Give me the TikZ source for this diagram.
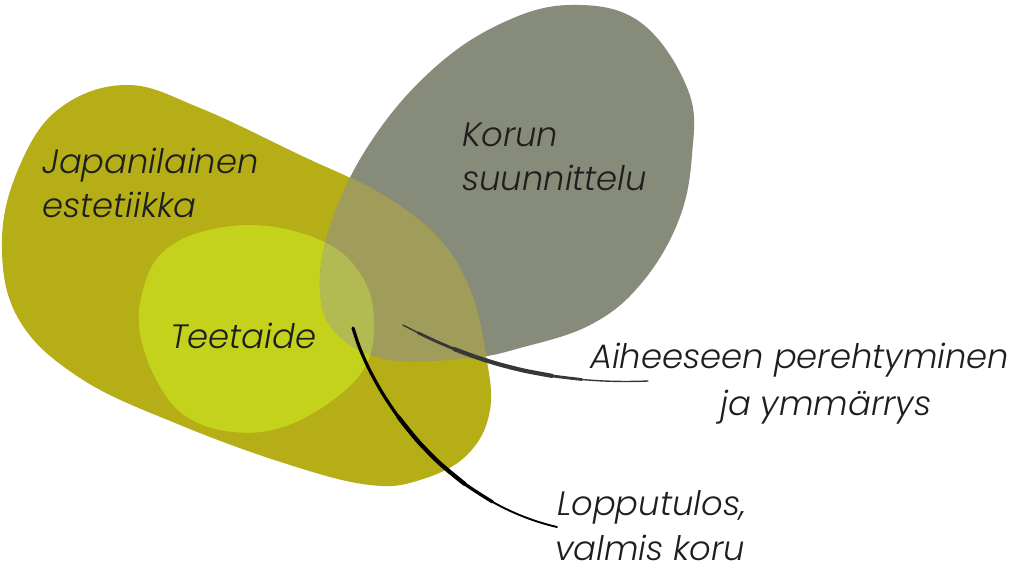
\documentclass[tikz,border=0pt]{standalone}
\usepackage{fontspec}
\newfontfamily\lab{Poppins Light Italic}
\begin{document}
\begin{tikzpicture}[x=1pt,y=-1pt,
  lbl/.style={anchor=base west,inner sep=0pt,font=\lab\fontsize{33.8}{40}\selectfont,text=txt},
  conn/.style={line cap=round,line join=round}]
\definecolor{olivec}{RGB}{182,174,22}
\definecolor{yellowc}{RGB}{197,210,28}
\definecolor{greyc}{RGB}{134,139,122}
\definecolor{ogc}{RGB}{160,157,90}
\definecolor{ygc}{RGB}{178,186,82}
\definecolor{txt}{RGB}{30,30,30}
\definecolor{ln1}{RGB}{55,55,55}
\useasboundingbox[fill=white] (0,0) rectangle (1023,576);
\def\greyP{plot[smooth cycle,tension=0.65] coordinates {(570,5) (640,22) (688,90) (692,155) (678,222) (640,285) (590,325) (520,348) (470,358) (390,360) (338,335) (320,290) (332,220) (372,140) (432,70) (500,24)}}
\def\oliveP{plot[smooth cycle,tension=0.65] coordinates {(2,240) (20,165) (60,108) (127,85) (200,108) (300,155) (383,195) (440,240) (470,290) (485,350) (490,410) (467,455) (420,480) (370,485) (290,465) (180,425) (80,378) (18,318)}}
\def\yellowP{plot[smooth cycle,tension=0.65] coordinates {(143,290) (162,253) (205,231) (267,226) (330,245) (364,280) (374,322) (366,365) (333,400) (283,427) (233,432) (187,417) (158,383) (140,333)}}
\fill[greyc] \greyP;
\fill[olivec] \oliveP;
\fill[yellowc] \yellowP;
\begin{scope}
  \clip \greyP;
  \fill[ogc] \oliveP;
  \fill[ygc] \yellowP;
\end{scope}
\node[lbl] (jap) at (42,173) {Japanilainen};
\node[lbl] (est) at (42,217) {estetiikka};
\node[lbl] (kor) at (462,146) {Korun};
\node[lbl] (suu) at (462,190) {suunnittelu};
\node[lbl] (tee) at (170,348) {Teetaide};
\node[lbl] (aih) at (590,368) {Aiheeseen perehtyminen};
\node[lbl] (jay) at (720,415) {ja ymmärrys};
\node[lbl] (lop) at (557,515) {Lopputulos,};
\node[lbl] (val) at (555,560) {valmis koru};
\coordinate (s1) at (403,325);
\coordinate (e1) at (648,381);
\coordinate (s2) at (353,328);
\coordinate (e2) at (557,527);
% points along the two connector curves
\path (s1) .. controls (450,350) and (530,386) .. (e1)
  coordinate[pos=0.1] (a1) coordinate[pos=0.2] (a2) coordinate[pos=0.3] (a3)
  coordinate[pos=0.4] (a4) coordinate[pos=0.5] (a5) coordinate[pos=0.6] (a6)
  coordinate[pos=0.7] (a7) coordinate[pos=0.8] (a8) coordinate[pos=0.9] (a9);
\path (s2) .. controls (370,390) and (440,500) .. (e2)
  coordinate[pos=0.1] (b1) coordinate[pos=0.2] (b2) coordinate[pos=0.3] (b3)
  coordinate[pos=0.4] (b4) coordinate[pos=0.5] (b5) coordinate[pos=0.6] (b6)
  coordinate[pos=0.7] (b7) coordinate[pos=0.8] (b8) coordinate[pos=0.9] (b9);
% connector 1 (tapered)
\draw[conn,draw=ln1,line width=1.4pt] (s1) .. controls (450,350) and (530,386) .. (e1);
\draw[conn,draw=ln1,line width=2.8pt] plot[smooth] coordinates {(a1) (a2) (a3) (a4) (a5) (a6) (a7) (a8)};
\draw[conn,draw=ln1,line width=4.2pt] plot[smooth] coordinates {(a3) (a4) (a5) (a6) (a7)};
% connector 2 (tapered)
\draw[conn,draw=black,line width=1.9pt] (s2) .. controls (370,390) and (440,500) .. (e2);
\draw[conn,draw=black,line width=3.2pt] plot[smooth] coordinates {(s2) (b1) (b2) (b3) (b4) (b5) (b6) (b7) (b8)};
\draw[conn,draw=black,line width=4.2pt] plot[smooth] coordinates {(b4) (b5) (b6) (b7)};
\end{tikzpicture}
\end{document}
